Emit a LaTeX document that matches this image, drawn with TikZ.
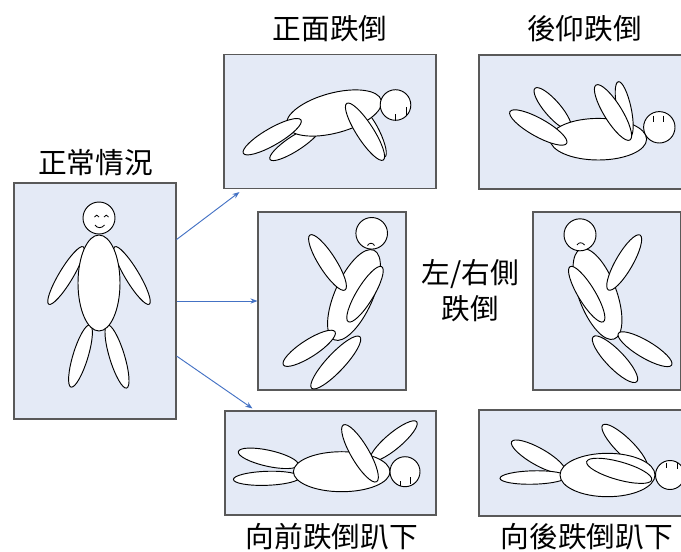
\documentclass[tikz,border=0pt]{standalone}
\usepackage{fontspec}
\newfontfamily\cjk{Noto Sans CJK TC}
\usepackage{xcolor}
\usetikzlibrary{arrows.meta, calc}
\definecolor{panelblue}{RGB}{228,234,246}
\definecolor{flowblue}{RGB}{68,114,196}

\begin{document}
\begin{tikzpicture}[x=0.03cm, y=-0.03cm,
  panel/.style={draw=black!65, fill=panelblue, line width=0.9pt, inner sep=0pt},
  part/.style={draw=black, fill=white, line width=0.8pt},
  caption/.style={font=\cjk\fontsize{24.5pt}{30.7pt}\selectfont, inner sep=0pt},
  flow/.style={draw=flowblue, line width=0.8pt, -{Stealth[length=6pt, width=4.5pt]}}]
  \useasboundingbox (0,0) rectangle (681,551);

  % パネル
  \node (normal) [panel, minimum width=4.86cm, minimum height=7.08cm] at (95,301) {};
  \node (front) [panel, minimum width=6.36cm, minimum height=4.02cm] at (330,121.5) {};
  \node (back) [panel, minimum width=6.36cm, minimum height=4.02cm] at (585,122) {};
  \node (sideL) [panel, minimum width=4.44cm, minimum height=5.34cm] at (332,301) {};
  \node (sideR) [panel, minimum width=4.44cm, minimum height=5.34cm] at (607,301) {};
  \node (prone) [panel, minimum width=6.33cm, minimum height=3.12cm] at (330.5,463) {};
  \node (proneB) [panel, minimum width=6.36cm, minimum height=3.18cm] at (585,463) {};

  % ラベル
  \node (t-normal) [caption] at (95.5,163) {正常情況};
  \node (t-front) [caption] at (330,29) {正面跌倒};
  \node (t-back) [caption] at (584.5,29) {後仰跌倒};
  \node (t-side) [caption, align=center] at (470.5,291) {左/右側\\跌倒};
  \node (t-prone) [caption] at (331.7,536.5) {向前跌倒趴下};
  \node (t-proneB) [caption] at (586.7,536.5) {向後跌倒趴下};

  % 矢印
  \draw[flow] (normal.37) -- ($(front.south west)+(16,3)$);
  \draw[flow] (normal.east) -- (sideL.west);
  \draw[flow] (normal.-34) -- ($(prone.north west)+(28,-2)$);

  % 正常 (x, y, 長径, 短径, 角度)
  \foreach \cx/\cy/\a/\b/\r in {66/275.5/33.5/7/59, 132/275.5/33.5/7/121,
      80.5/356/32.5/7.5/73, 117/356.5/33/7.5/107, 99/283/21/48/0}
    \draw[part, rotate around={\r:(\cx,\cy)}] (\cx,\cy) ellipse [x radius=\a, y radius=\b];
  \draw[part] (99,218) circle [radius=16];
  \draw[line width=0.7pt] (94.5,217) .. controls (95.5,214.5) and (98,214.5) .. (99,217);
  \draw[line width=0.7pt] (104,217) .. controls (105,214.5) and (107.5,214.5) .. (108.5,217);
  \draw[line width=0.7pt] (95,225) .. controls (97,228.5) and (102,228.5) .. (104.5,225);

  % 正面
  \foreach \cx/\cy/\a/\b/\r in {295.2/143.1/30/7.5/33, 373.5/133.5/26/6.5/116,
      334/113/49/20/15, 272.2/136.7/33.3/8.5/30, 365/131.7/33.7/8.5/122.8}
    \draw[part, rotate around={\r:(\cx,\cy)}] (\cx,\cy) ellipse [x radius=\a, y radius=\b];
  \draw[part] (395.5,105) circle [radius=15.3];
  \draw[line width=0.7pt] (395,114) -- (395,120.3);
  \draw[line width=0.7pt] (406.5,107) -- (406.5,114.5);

  % 後仰
  \foreach \cx/\cy/\a/\b/\r in {552.7/108.7/27/8/-49.2, 598.3/139.2/48.3/20.8/0,
      538.3/127.5/32.5/9/-29.2, 624.2/109.2/28.1/7/-78, 613/112.5/32.3/9/-58.3}
    \draw[part, rotate around={\r:(\cx,\cy)}] (\cx,\cy) ellipse [x radius=\a, y radius=\b];
  \draw[part] (659.3,127.3) circle [radius=15.7];
  \draw[line width=0.7pt] (653.3,115.5) -- (653.3,121.5);
  \draw[line width=0.7pt] (663.3,115.5) -- (663.3,121.5);

  % 左側
  \foreach \cx/\cy/\a/\b/\r in {354/295/49/19/66, 327.5/262.5/32.6/8.5/122.5,
      365/294.2/32.2/8.5/58.7, 309.2/348.3/30.7/8.5/32.8, 335.8/362.5/35.3/9/46.9}
    \draw[part, rotate around={\r:(\cx,\cy)}] (\cx,\cy) ellipse [x radius=\a, y radius=\b];
  \draw[part] (371.7,233.3) circle [radius=15.8];
  \draw[line width=0.7pt] (367.5,245.5) .. controls (369,242.5) and (373,242.5) .. (374.5,245.5);

  % 右側
  \foreach \cx/\cy/\a/\b/\r in {597.5/294/48/19/110.4, 624.2/262.5/31.7/8.5/60,
      586.7/294.2/32.2/8.5/121.2, 645/349.2/31/8.5/-30.7, 615/359.2/31.3/9/-46}
    \draw[part, rotate around={\r:(\cx,\cy)}] (\cx,\cy) ellipse [x radius=\a, y radius=\b];
  \draw[part] (580,234.8) circle [radius=16];
  \draw[line width=0.7pt] (577,245) .. controls (578.5,242) and (582.5,242) .. (584.5,245);

  % 前に趴下
  \foreach \cx/\cy/\a/\b/\r in {268.3/458.3/30.7/8/-12.5, 266.7/478.3/33.3/7/2,
      393.7/441/30/8/40, 341.7/471.7/48.3/20/0, 360/453.3/32.9/9/120.4}
    \draw[part, rotate around={\r:(\cx,\cy)}] (\cx,\cy) ellipse [x radius=\a, y radius=\b];
  \draw[part] (405,471.7) circle [radius=15];
  \draw[line width=0.7pt] (400,481) -- (400,486);
  \draw[line width=0.7pt] (410.5,477) -- (410.5,483.5);

  % 後ろに趴下
  \foreach \cx/\cy/\a/\b/\r in {538.3/456.7/30.6/8.5/-29.4, 533.3/477.5/33.3/6.7/1.4,
      624.7/446.7/30.9/8.5/-44.5, 607.5/475/47.5/21.7/0, 619.2/470.8/33.8/9/-15.7}
    \draw[part, rotate around={\r:(\cx,\cy)}] (\cx,\cy) ellipse [x radius=\a, y radius=\b];
  \draw[part] (670,475) circle [radius=14.5];
  \draw[line width=0.7pt] (666.7,462.5) -- (666.7,468);
  \draw[line width=0.7pt] (677.3,462.5) -- (677.3,468.5);
\end{tikzpicture}
\end{document}
